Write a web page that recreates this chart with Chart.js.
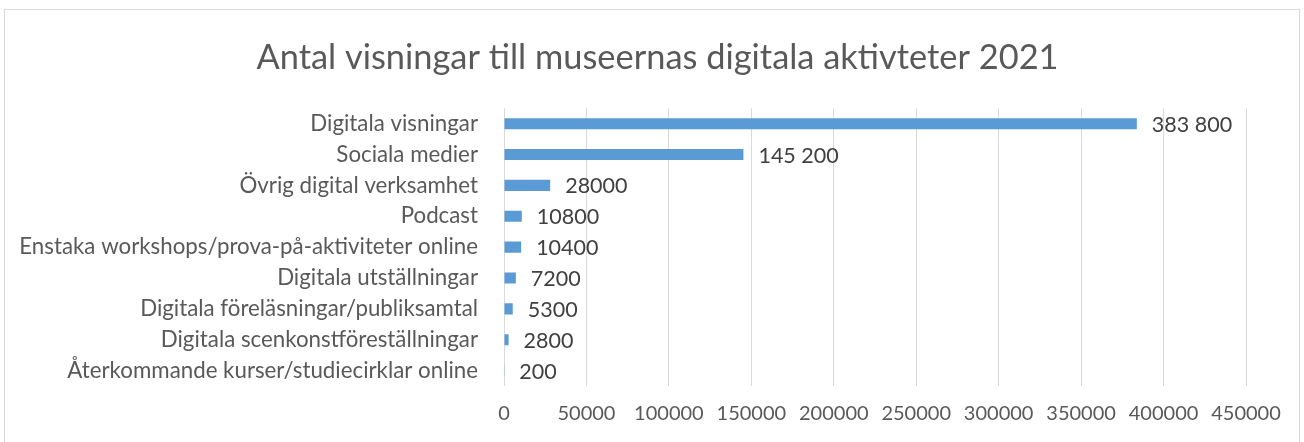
<!DOCTYPE html>
<html>
<head>
<meta charset="utf-8">
<script src="https://cdn.jsdelivr.net/npm/chart.js@4/dist/chart.umd.min.js"></script>
<style>
    body { margin: 0; background: #fff; }
    #frame {
        position: absolute; left: 4px; top: 9px;
        width: 1294px; height: 440px;
        border: 1px solid #d9d9d9;
    }
</style>
</head>
<body>
<div id="frame"><canvas id="chart" width="1294" height="440"></canvas></div>
<script>
const categories = [
    'Digitala visningar',
    'Sociala medier',
    'Övrig digital verksamhet',
    'Podcast',
    'Enstaka workshops/prova-på-aktiviteter online',
    'Digitala utställningar',
    'Digitala föreläsningar/publiksamtal',
    'Digitala scenkonstföreställningar',
    'Återkommande kurser/studiecirklar online'
];
const values = [383800, 145200, 28000, 10800, 10400, 7200, 5300, 2800, 200];
const valueLabels = ['383 800', '145 200', '28000', '10800', '10400', '7200', '5300', '2800', '200'];

const fontFamily = 'Lato, "Open Sans", sans-serif';
const textColor = '#595959';

// draws the number right of each bar
const valueLabelPlugin = {
    id: 'valueLabels',
    afterDatasetsDraw(chart) {
        const ctx = chart.ctx;
        const meta = chart.getDatasetMeta(0);
        ctx.save();
        ctx.font = '21.5px ' + fontFamily;
        ctx.fillStyle = '#404040';
        ctx.textBaseline = 'middle';
        ctx.textAlign = 'left';
        meta.data.forEach((bar, i) => {
            ctx.fillText(valueLabels[i], bar.x + 15, bar.y + 1);
        });
        ctx.restore();
    }
};

new Chart(document.getElementById('chart'), {
    type: 'bar',
    data: {
        labels: categories,
        datasets: [{
            data: values,
            backgroundColor: '#5b9bd5',
            barPercentage: 0.36,
            categoryPercentage: 1
        }]
    },
    options: {
        indexAxis: 'y',
        responsive: false,
        animation: false,
        // small left padding nudges the title centre right, as in the original
        layout: { padding: { left: 11, right: 0, top: 0, bottom: 8 } },
        plugins: {
            legend: { display: false },
            tooltip: { enabled: false },
            title: {
                display: true,
                text: 'Antal visningar till museernas digitala aktivteter 2021',
                color: textColor,
                font: { family: fontFamily, size: 34.4, weight: 'normal' },
                padding: { top: 27, bottom: 30 }
            }
        },
        scales: {
            x: {
                min: 0,
                max: 450000,
                ticks: {
                    stepSize: 50000,
                    color: textColor,
                    font: { family: fontFamily, size: 20 },
                    padding: 16,
                    maxRotation: 0,
                    callback: v => String(v)
                },
                grid: { color: '#d9d9d9', drawTicks: false },
                border: { display: false },
                afterFit(scale) { scale.paddingRight = 53; }
            },
            y: {
                ticks: {
                    color: textColor,
                    font: { family: fontFamily, size: 22.3 },
                    padding: 26
                },
                grid: { display: false, drawTicks: false },
                border: { display: false },
                afterFit(scale) { scale.width = 488; }
            }
        }
    },
    plugins: [valueLabelPlugin]
});
</script>
</body>
</html>
